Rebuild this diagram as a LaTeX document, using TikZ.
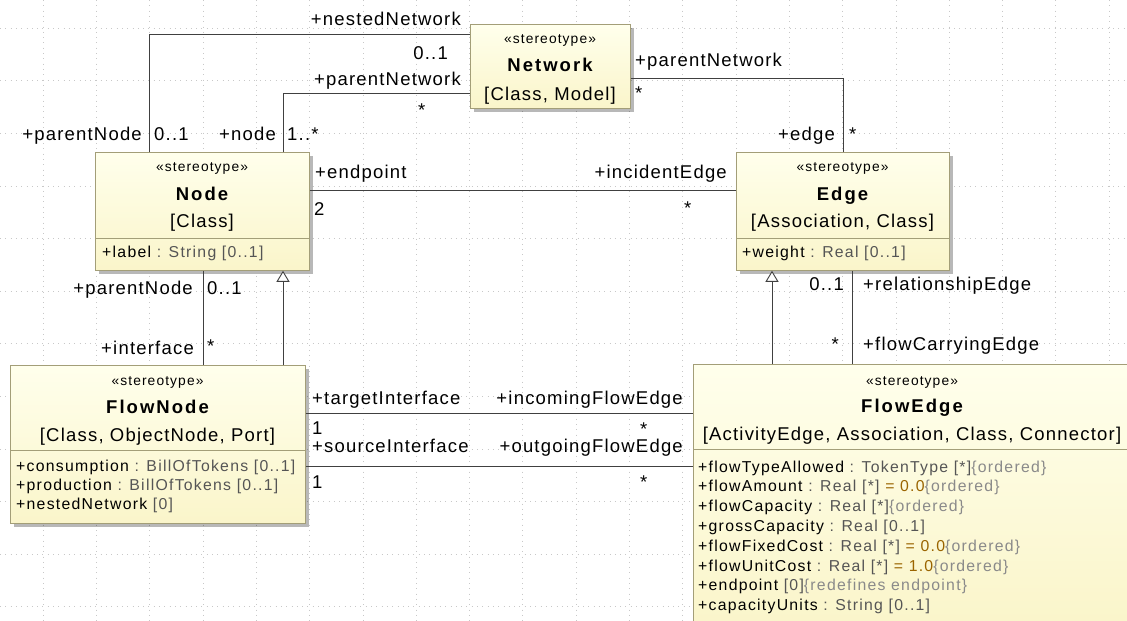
\documentclass[tikz,border=0pt]{standalone}
\usepackage{fontspec}
\setmainfont{Liberation Sans}[LetterSpace=6.5]
\newfontfamily\attrfont{Liberation Sans}[LetterSpace=8]
\newfontfamily\namefont{Liberation Sans}[LetterSpace=11]
\usetikzlibrary{arrows.meta,shadows}
\definecolor{boxtop}{HTML}{FFFFEC}
\definecolor{boxbot}{HTML}{FAF5CA}
\definecolor{boxline}{HTML}{A39E78}
\definecolor{conn}{HTML}{404040}
\definecolor{typec}{HTML}{555555}
\definecolor{tagc}{HTML}{8A8A8A}
\definecolor{valc}{HTML}{9A6400}
\definecolor{gridc}{HTML}{C8C8C8}
\newcommand{\fmain}{\fontsize{18.5}{21}\selectfont}
\newcommand{\fname}{\namefont\fontsize{18.5}{21}\selectfont\bfseries}
\newcommand{\fster}{\attrfont\fontsize{13.8}{16}\selectfont}
\newcommand{\fattr}{\attrfont\fontsize{15.8}{19}\selectfont}
\newcommand{\ty}[1]{\textcolor{typec}{#1}}
\newcommand{\tg}[1]{\textcolor{tagc}{#1}}
\newcommand{\vl}[1]{\textcolor{valc}{#1}}
\begin{document}
\begin{tikzpicture}[x=1pt,y=-1pt,
  classbox/.style={draw=boxline, line width=0.8pt, top color=boxtop, bottom color=boxbot,
    anchor=north west, inner sep=0pt,
    drop shadow={shadow xshift=3.5pt, shadow yshift=-3.5pt, fill=black, opacity=0.28}},
  ster/.style={font=\fster, inner sep=0pt, anchor=base},
  cname/.style={font=\fname, inner sep=0pt, anchor=base},
  cmeta/.style={font=\fmain, inner sep=0pt, anchor=base},
  attr/.style={font=\fattr, inner sep=0pt, anchor=base west},
  lw/.style={font=\fmain, inner sep=0pt, anchor=base west},
  le/.style={font=\fmain, inner sep=0pt, anchor=base east},
  conn/.style={draw=conn, line width=0.9pt},
  gen/.style={conn, -{Triangle[open, width=13pt, length=11pt, fill=white]}},
  divl/.style={draw=boxline, line width=0.8pt},
  gridl/.style={draw=gridc, line width=0.6pt, dash pattern=on 0.8pt off 4.5pt}
]
\useasboundingbox (0,0) rectangle (1127,621);
\fill[white] (0,0) rectangle (1127,621);
% grid
\foreach \i in {0,...,20} \draw[gridl] ({43+53.3*\i},0) -- ({43+53.3*\i},621);
\foreach \j in {0,...,11} \draw[gridl] (0,{28+52.6*\j}) -- (1127,{28+52.6*\j});

% ---------- boxes ----------
\node[classbox, minimum width=160pt, minimum height=84pt] (nNet) at (470,24) {};
\node[ster]  (netS) at (550,43) {«stereotype»};
\node[cname] (netN) at (550,71.5) {Network};
\node[cmeta] (netM) at (550,100) {[Class, Model]};

\node[classbox, minimum width=214pt, minimum height=118pt] (nNode) at (95,152) {};
\node[ster]  (nodeS) at (202,171) {«stereotype»};
\node[cname] (nodeN) at (202,200) {Node};
\node[cmeta] (nodeM) at (202,227) {[Class]};
\draw[divl] (nNode.west |- 0,238) -- (nNode.east |- 0,238);
\node[attr] (nodeA1) at (102,257) {+label\ty{\ : String [0..1]}};

\node[classbox, minimum width=213pt, minimum height=118pt] (nEdge) at (736,152) {};
\node[ster]  (edgeS) at (842.5,171) {«stereotype»};
\node[cname] (edgeN) at (842.5,200) {Edge};
\node[cmeta] (edgeM) at (842.5,227) {[Association, Class]};
\draw[divl] (nEdge.west |- 0,238) -- (nEdge.east |- 0,238);
\node[attr] (edgeA1) at (742,257) {+weight\ty{\ : Real [0..1]}};

\node[classbox, minimum width=295pt, minimum height=158pt] (nFNode) at (10,365) {};
\node[ster]  (fnS) at (157.5,385) {«stereotype»};
\node[cname] (fnN) at (157.5,413) {FlowNode};
\node[cmeta] (fnM) at (157.5,441) {[Class, ObjectNode, Port]};
\draw[divl] (nFNode.west |- 0,450) -- (nFNode.east |- 0,450);
\node[attr] (fnA1) at (16,471) {+consumption\ty{\ : BillOfTokens [0..1]}};
\node[attr] (fnA2) at (16,490) {+production\ty{\ : BillOfTokens [0..1]}};
\node[attr] (fnA3) at (16,509) {+nestedNetwork\ty{\ [0]}};

\node[classbox, minimum width=438pt, minimum height=262pt] (nFEdge) at (693,364) {};
\node[ster]  (feS) at (912,385) {«stereotype»};
\node[cname] (feN) at (912,412) {FlowEdge};
\node[cmeta] (feM) at (912,440) {[ActivityEdge, Association, Class, Connector]};
\draw[divl] (nFEdge.west |- 0,449) -- (nFEdge.east |- 0,449);
\node[attr] (feA1) at (698,472) {+flowTypeAllowed\ty{\ : TokenType [*]}\tg{\{ordered\}}};
\node[attr] (feA2) at (698,491.8) {+flowAmount\ty{\ : Real [*]\ }\vl{= 0.0}\tg{\{ordered\}}};
\node[attr] (feA3) at (698,511.6) {+flowCapacity\ty{\ : Real [*]}\tg{\{ordered\}}};
\node[attr] (feA4) at (698,531.4) {+grossCapacity\ty{\ : Real [0..1]}};
\node[attr] (feA5) at (698,551.2) {+flowFixedCost\ty{\ : Real [*]\ }\vl{= 0.0}\tg{\{ordered\}}};
\node[attr] (feA6) at (698,571) {+flowUnitCost\ty{\ : Real [*]\ }\vl{= 1.0}\tg{\{ordered\}}};
\node[attr] (feA7) at (698,590.8) {+endpoint\ty{\ [0]}\tg{\{redefines endpoint\}}};
\node[attr] (feA8) at (698,610.6) {+capacityUnits\ty{\ : String [0..1]}};

% ---------- connectors ----------
\coordinate (c1) at (149,34);
\draw[conn] (c1 |- nNode.north) -- (c1) -- (c1 -| nNet.west);
\coordinate (c2) at (283,93);
\draw[conn] (c2 |- nNode.north) -- (c2) -- (c2 -| nNet.west);
\coordinate (c3) at (843,78);
\draw[conn] (c3 -| nNet.east) -- (c3) -- (c3 |- nEdge.north);
\coordinate (c4) at (500,190);
\draw[conn] (c4 -| nNode.east) -- (c4 -| nEdge.west);
\coordinate (c5) at (283,300);
\draw[gen] (c5 |- nFNode.north) -- (c5 |- nNode.south);
\coordinate (c6) at (203,300);
\draw[conn] (c6 |- nNode.south) -- (c6 |- nFNode.north);
\coordinate (c7) at (772,300);
\draw[gen] (c7 |- nFEdge.north) -- (c7 |- nEdge.south);
\coordinate (c8) at (852,300);
\draw[conn] (c8 |- nEdge.south) -- (c8 |- nFEdge.north);
\coordinate (c9) at (500,413);
\draw[conn] (c9 -| nFNode.east) -- (c9 -| nFEdge.west);
\coordinate (c10) at (500,466);
\draw[conn] (c10 -| nFNode.east) -- (c10 -| nFEdge.west);

% ---------- connector labels ----------
\node[le] (l1) at (461,25.5) {+nestedNetwork};
\node[le] (l2) at (448,59.5) {0..1};
\node[le] (l3) at (461,85.5) {+parentNetwork};
\node[lw] (l4) at (418,116.5) {*};
\node[le] (l5) at (142,140.5) {+parentNode};
\node[lw] (l6) at (154,140.5) {0..1};
\node[le] (l7) at (276,140.5) {+node};
\node[lw] (l8) at (287,140.5) {1..*};

\node[lw] (l9) at (635,66.5) {+parentNetwork};
\node[lw] (l10) at (635,99.5) {*};
\node[le] (l11) at (835,140.5) {+edge};
\node[lw] (l12) at (849,140.5) {*};

\node[lw] (l13) at (315,178.5) {+endpoint};
\node[lw] (l14) at (314,215) {2};
\node[le] (l15) at (727,178.5) {+incidentEdge};
\node[lw] (l16) at (684,214.5) {*};

\node[le] (l17) at (193,294.5) {+parentNode};
\node[lw] (l18) at (207,294.5) {0..1};
\node[le] (l19) at (194,354.5) {+interface};
\node[lw] (l20) at (207,352.5) {*};

\node[le] (l21) at (844,290.5) {0..1};
\node[lw] (l22) at (863,290.5) {+relationshipEdge};
\node[le] (l23) at (839,350.5) {*};
\node[lw] (l24) at (863,350.5) {+flowCarryingEdge};

\node[lw] (l25) at (312,404.5) {+targetInterface};
\node[le] (l26) at (683,404.5) {+incomingFlowEdge};
\node[lw] (l27) at (312,434.5) {1};
\node[lw] (l28) at (640,435.5) {*};
\node[lw] (l29) at (312,452.5) {+sourceInterface};
\node[le] (l30) at (683,452.5) {+outgoingFlowEdge};
\node[lw] (l31) at (312,488) {1};
\node[lw] (l32) at (640,488) {*};
\end{tikzpicture}
\end{document}
